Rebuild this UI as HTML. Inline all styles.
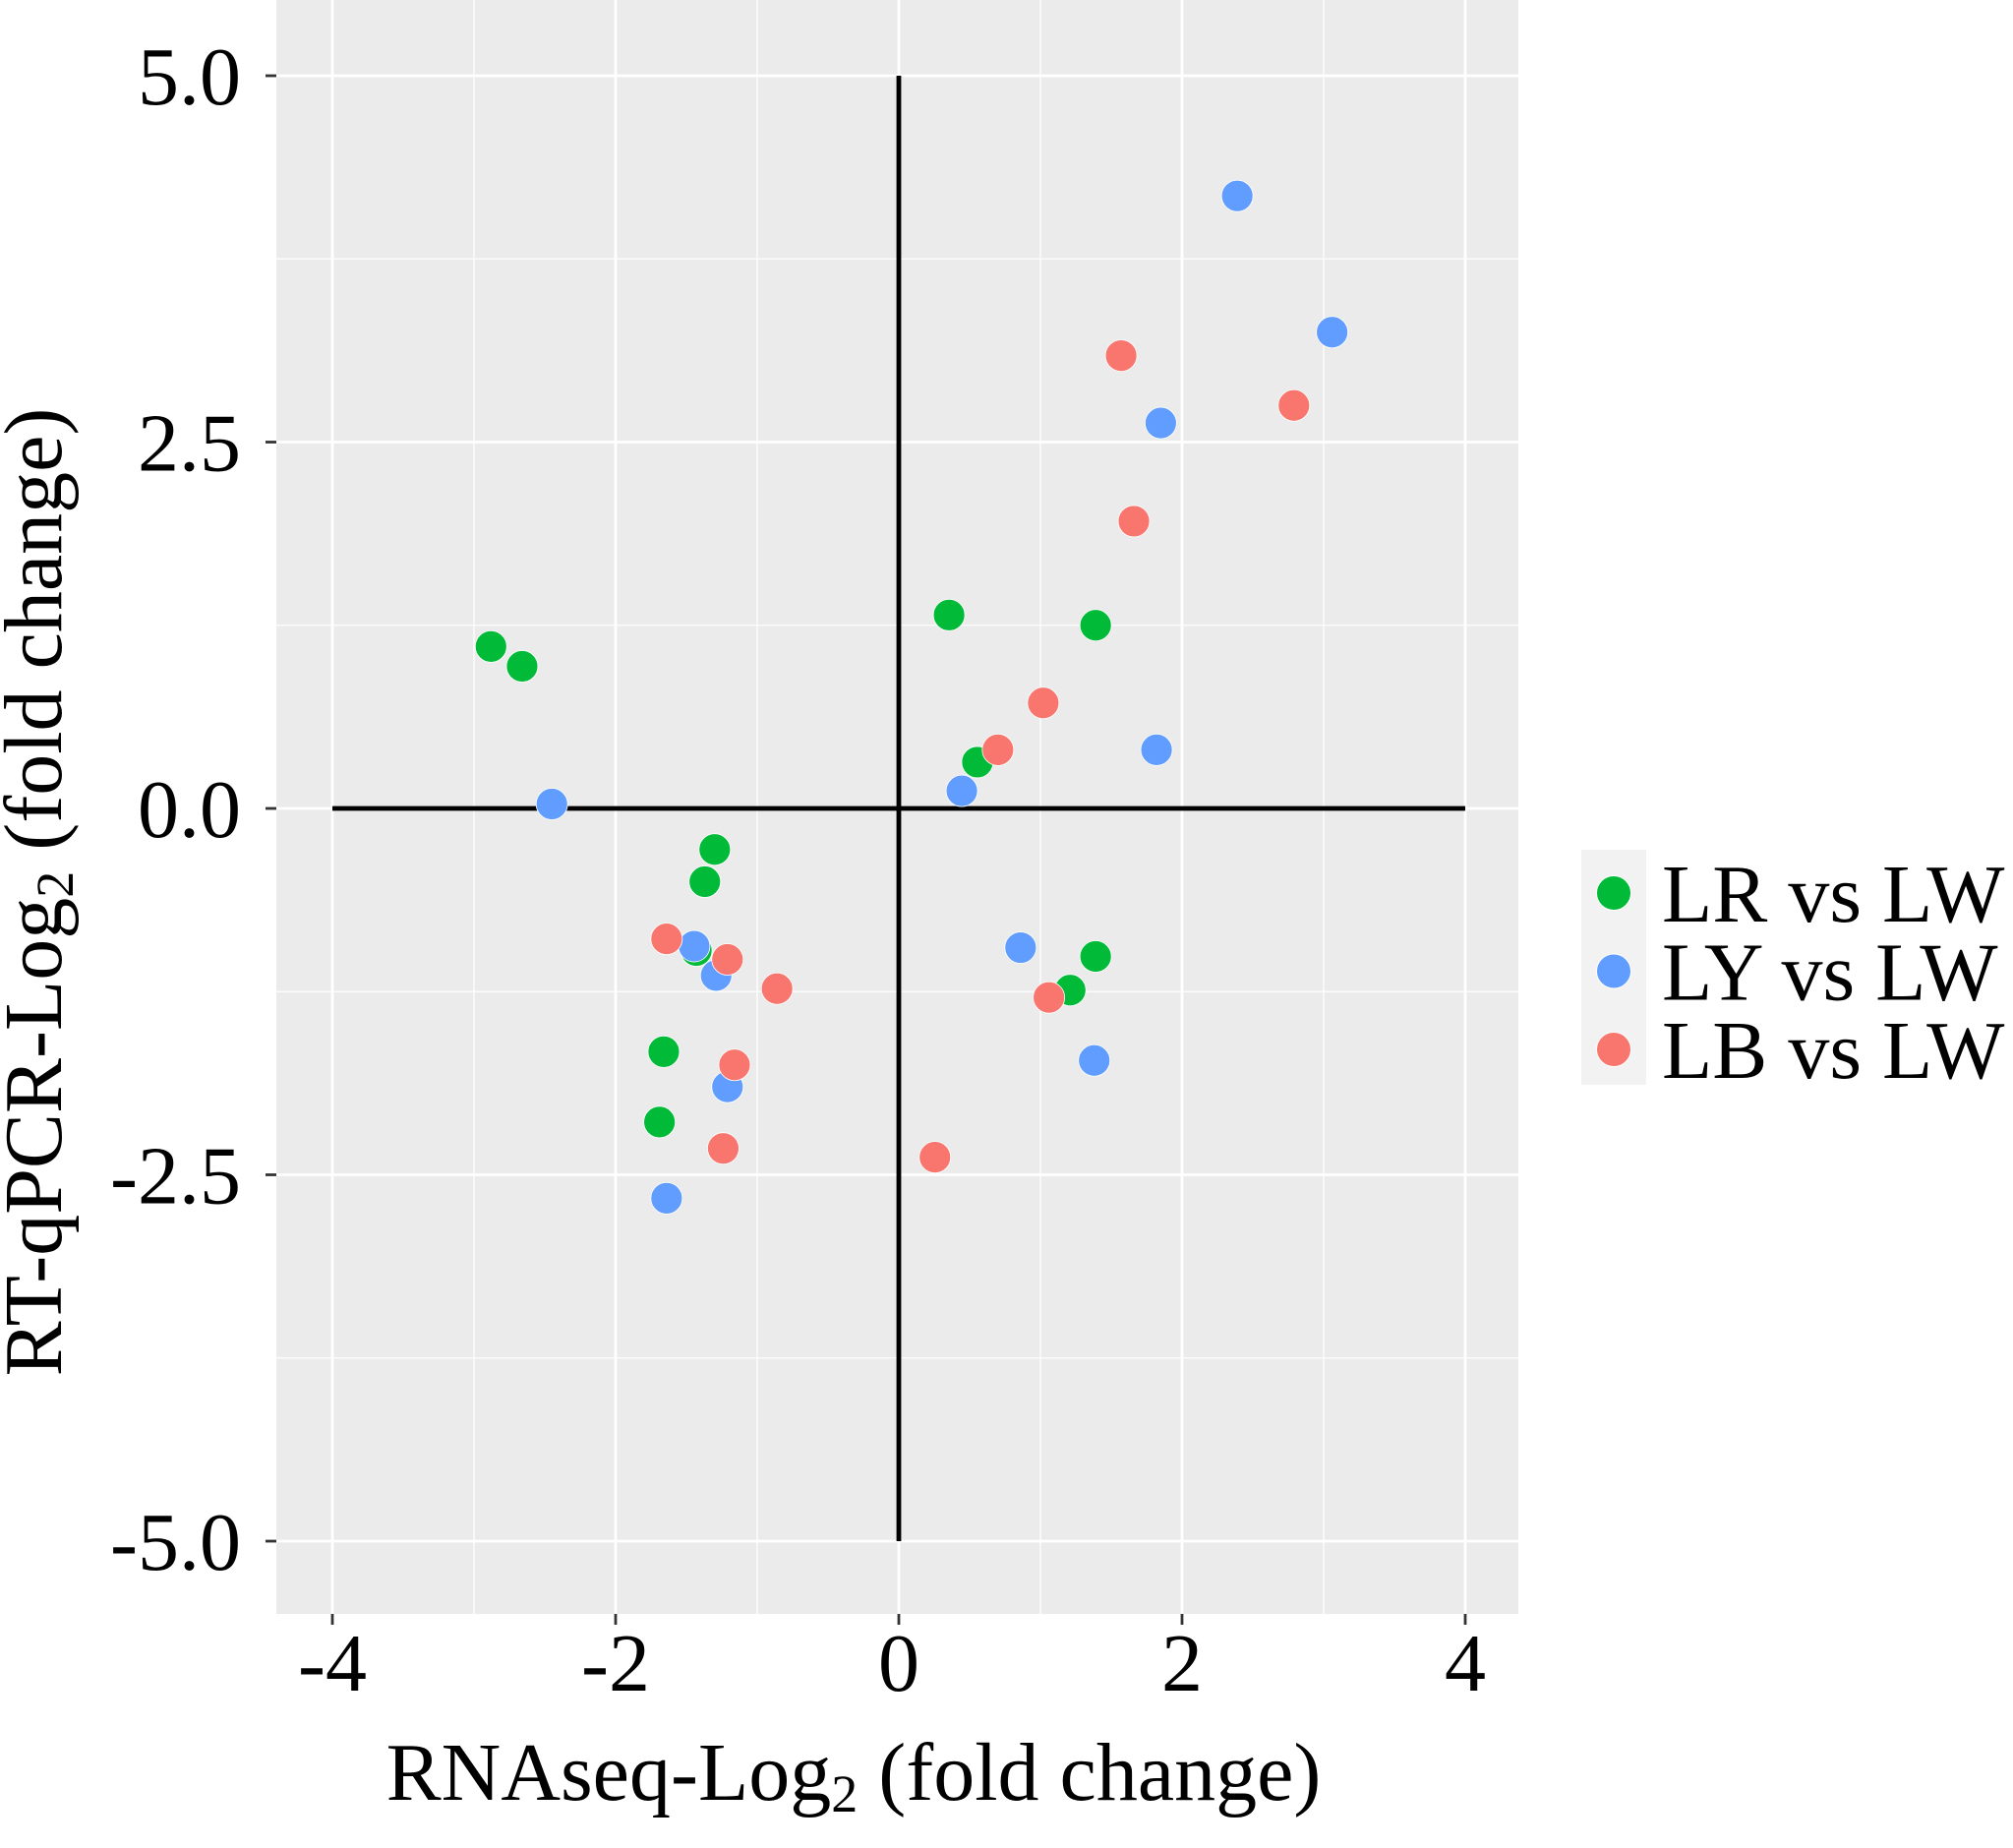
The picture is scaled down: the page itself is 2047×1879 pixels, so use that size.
<!DOCTYPE html>
<html><head><meta charset="utf-8"><style>
html,body{margin:0;padding:0;background:#fff}
svg{display:block;font-family:"Liberation Serif",serif}
</style></head><body>
<svg id="chart" width="2047" height="1879" viewBox="0 0 2047 1879" xmlns="http://www.w3.org/2000/svg">
<rect x="281" y="0" width="1263" height="1641" fill="#ebebeb"/>
<g id="grid"></g>
<g id="axes"></g>
<g id="pts"></g>
<text transform="translate(62,907) rotate(-90)" text-anchor="middle" font-size="84">RT-qPCR-Log<tspan font-size="54" dy="12">2</tspan><tspan dy="-12"> (fold change)</tspan></text>
<text x="868" y="1830" text-anchor="middle" font-size="84">RNAseq-Log<tspan font-size="54" dy="12">2</tspan><tspan dy="-12"> (fold change)</tspan></text>
<g>
<rect x="1608" y="864" width="66" height="239" fill="#f2f2f2"/>
</g>
<g id="legend"></g>
</svg>
<script>
const xTicks = [-4, -2, 0, 2, 4];
const yTicks = [-5, -2.5, 0, 2.5, 5];
const yTickLabels = ["-5.0", "-2.5", "0.0", "2.5", "5.0"];
const seriesNames = ["LR vs LW", "LY vs LW", "LB vs LW"];
const seriesColors = ["#00ba38", "#619cff", "#f8766d"];
const lrX = [-2.88, -2.66, 0.355, 1.39, 0.555, -1.30, -1.37, -1.43, -1.66, -1.69, 1.21, 1.39];
const lrY = [1.105, 0.97, 1.32, 1.25, 0.316, -0.28, -0.50, -0.97, -1.66, -2.14, -1.24, -1.01];
const lyX = [2.39, 3.06, 1.85, 1.82, 0.445, -2.45, -1.445, -1.29, -1.21, -1.64, 0.86, 1.38];
const lyY = [4.18, 3.25, 2.63, 0.40, 0.12, 0.03, -0.94, -1.14, -1.90, -2.66, -0.95, -1.72];
const lbX = [1.57, 2.79, 1.66, 1.02, 0.70, -1.64, -1.21, -0.86, -1.16, -1.24, 1.06, 0.255];
const lbY = [3.09, 2.75, 1.96, 0.72, 0.40, -0.89, -1.03, -1.23, -1.75, -2.32, -1.29, -2.38];

const NS = "http://www.w3.org/2000/svg";
const sx = v => 914 + 144 * v;
const sy = v => 822 - 149 * v;
const PL = 281, PR = 1544, PT = 0, PB = 1641;
function mk(tag, attrs, parent) {
  const e = document.createElementNS(NS, tag);
  for (const k in attrs) e.setAttribute(k, attrs[k]);
  parent.appendChild(e);
  return e;
}
const grid = document.getElementById('grid');
const axes = document.getElementById('axes');
for (let i = 0; i < xTicks.length - 1; i++) {
  const v = (xTicks[i] + xTicks[i + 1]) / 2;
  const l = mk('line', {x1: sx(v), x2: sx(v), y1: PT, y2: PB, stroke: '#fff', 'stroke-width': 1.3}, grid);
  
  
}
for (let i = 0; i < yTicks.length - 1; i++) {
  const v = (yTicks[i] + yTicks[i + 1]) / 2;
  const l = mk('line', {x1: PL, x2: PR, y1: sy(v), y2: sy(v), stroke: '#fff', 'stroke-width': 1.3}, grid);
  
  
}
xTicks.forEach(v => {
  const l = mk('line', {x1: sx(v), x2: sx(v), y1: PT, y2: PB, stroke: '#fff', 'stroke-width': 2.8}, grid);
  
  
  const t = mk('line', {x1: sx(v), x2: sx(v), y1: PB, y2: PB + 11, stroke: '#333', 'stroke-width': 2.8}, axes);
  
  
  const tx = mk('text', {x: sx(v), y: 1719, 'text-anchor': 'middle', 'font-size': 84, fill: '#000'}, axes);
  
  
  tx.textContent = String(v);
});
yTicks.forEach((v, i) => {
  const l = mk('line', {x1: PL, x2: PR, y1: sy(v), y2: sy(v), stroke: '#fff', 'stroke-width': 2.8}, grid);
  
  
  const t = mk('line', {x1: PL - 11, x2: PL, y1: sy(v), y2: sy(v), stroke: '#333', 'stroke-width': 2.8}, axes);
  
  
  const tx = mk('text', {x: 245, y: sy(v) + 29, 'text-anchor': 'end', 'font-size': 84, fill: '#000'}, axes);
  
  
  tx.textContent = yTickLabels[i];
});
const h = mk('line', {x1: sx(-4), x2: sx(4), y1: sy(0), y2: sy(0), stroke: '#000', 'stroke-width': 4.8}, axes);


const vl = mk('line', {x1: sx(0), x2: sx(0), y1: sy(5), y2: sy(-5), stroke: '#000', 'stroke-width': 4.8}, axes);



const pts = document.getElementById('pts');
const series = [[lrX, lrY], [lyX, lyY], [lbX, lbY]];
[0, 1, 2].forEach(s => {
  const [xs, ys] = series[s];
  xs.forEach((x, i) => {
    const c = mk('circle', {cx: sx(x), cy: sy(ys[i]), r: 16, fill: seriesColors[s], stroke: '#fff', 'stroke-width': 0.8}, pts);
    
    
  });
});
const leg = document.getElementById('legend');
seriesNames.forEach((n, i) => {
  const cy = 908 + i * 79.5;
  const c = mk('circle', {cx: 1641, cy: cy, r: 17.5, fill: seriesColors[i], stroke: '#fff', 'stroke-width': 1}, leg);
  
  
  const t = mk('text', {x: 1690, y: cy + 29, 'font-size': 84, fill: '#000'}, leg);
  
  
  t.textContent = n;
});
</script>
</body></html>
